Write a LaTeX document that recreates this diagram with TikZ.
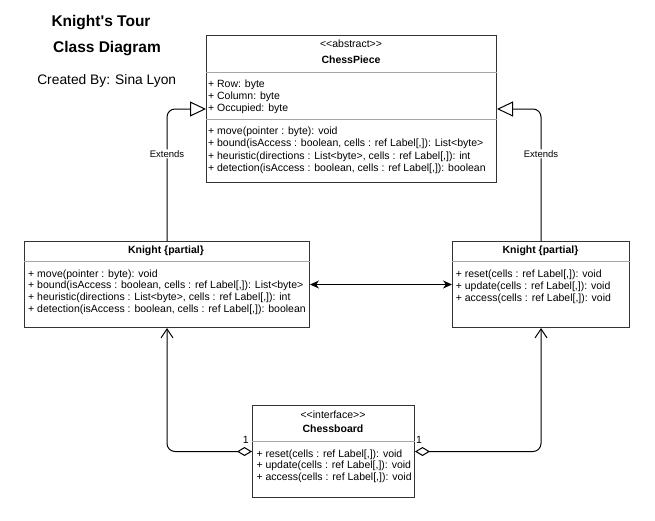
\documentclass[tikz,border=0pt]{standalone}
\usepackage{fontspec}
\setmainfont{Liberation Sans}[Ligatures=TeXOff]
\usetikzlibrary{arrows.meta}
\begin{document}
\begin{tikzpicture}[x=1pt, y=-1pt,
    classbox/.style={draw=black!80, line width=1pt, fill=white, anchor=north west, inner sep=0pt},
    divider/.style={draw=black!35, line width=0.8pt},
    stereotype/.style={inner sep=0pt, anchor=base, font=\fontsize{10.5}{12}\selectfont},
    classname/.style={inner sep=0pt, anchor=base, font=\fontsize{10.5}{12}\selectfont\bfseries},
    members/.style={inner sep=0pt, anchor=base west, align=left, font=\fontsize{10.5}{#1}\selectfont},
    members/.default=12,
    link/.style={draw=black, line width=1pt, rounded corners=8pt},
    extends/.style={link, -{Triangle[length=16pt, width=15pt, fill=white]}},
    aggregate/.style={link, {Diamond[length=15pt, width=9pt, fill=white]}-{Straight Barb[length=9pt, width=12pt]}},
    linktext/.style={fill=white, inner sep=1pt, font=\fontsize{9.5}{11}\selectfont},
    mult/.style={inner sep=0pt, font=\fontsize{10.5}{12}\selectfont}]
    \useasboundingbox (0,0) rectangle (655,520);

    % title
    \node[inner sep=0pt, anchor=base, font=\fontsize{15.5}{18}\selectfont\bfseries] (titleA) at (101,26.8) {Knight's Tour};
    \node[inner sep=0pt, anchor=base, font=\fontsize{15.5}{18}\selectfont\bfseries] (titleB) at (107,52.2) {Class Diagram};
    \node[inner sep=0pt, anchor=base, font=\fontsize{13.8}{16}\selectfont] (author) at (106.7,84.3) {Created By: Sina Lyon};

    % abstract class (multi-line members are placed by their last baseline)
    \node[classbox, minimum width=290pt, minimum height=147pt] (piece) at (206,35) {};
    \draw[divider] ([yshift=-37pt]piece.north west) -- ([yshift=-37pt]piece.north east);
    \draw[divider] ([yshift=-84pt]piece.north west) -- ([yshift=-84pt]piece.north east);
    \node[stereotype] (pieceSt) at (351,47.7) {<<abstract>>};
    \node[classname] (pieceName) at (351,63) {ChessPiece};
    \node[members] (pieceAttr) at (207.9,111) {+ Row: byte\\+ Column: byte\\+ Occupied: byte};
    \node[members=12.4] (pieceOps) at (207.9,171.6) {+ move(pointer : byte): void\\
        + bound(isAccess : boolean, cells : ref Label[,]): List<byte>\\
        + heuristic(directions : List<byte>, cells : ref Label[,]): int\\
        + detection(isAccess : boolean, cells : ref Label[,]): boolean};

    % partial classes
    \node[classbox, minimum width=285pt, minimum height=86pt] (knightL) at (24,241) {};
    \draw[divider] ([yshift=-20pt]knightL.north west) -- ([yshift=-20pt]knightL.north east);
    \node[classname] (knightLName) at (166,253.7) {Knight \{partial\}};
    \node[members=11.8] (knightLOps) at (28,312.4) {+ move(pointer : byte): void\\
        + bound(isAccess : boolean, cells : ref Label[,]): List<byte>\\
        + heuristic(directions : List<byte>, cells : ref Label[,]): int\\
        + detection(isAccess : boolean, cells : ref Label[,]): boolean};

    \node[classbox, minimum width=177pt, minimum height=86pt] (knightR) at (452,241) {};
    \draw[divider] ([yshift=-20pt]knightR.north west) -- ([yshift=-20pt]knightR.north east);
    \node[classname] (knightRName) at (540.5,253.7) {Knight \{partial\}};
    \node[members] (knightROps) at (455.6,301) {+ reset(cells : ref Label[,]): void\\
        + update(cells : ref Label[,]): void\\
        + access(cells : ref Label[,]): void};

    % interface
    \node[classbox, minimum width=162pt, minimum height=92pt] (board) at (252,405) {};
    \draw[divider] ([yshift=-36pt]board.north west) -- ([yshift=-36pt]board.north east);
    \node[stereotype] (boardSt) at (333,418) {<<interface>>};
    \node[classname] (boardName) at (333,432.7) {Chessboard};
    \node[members=11.7] (boardOps) at (256.3,480.4) {+ reset(cells : ref Label[,]): void\\
        + update(cells : ref Label[,]): void\\
        + access(cells : ref Label[,]): void};

    % connectors
    \draw[extends] (knightL.north) |- node[linktext, pos=0.33] (extL) {Extends} (piece.west);
    \draw[extends] (knightR.north) |- node[linktext, pos=0.33] (extR) {Extends} (piece.east);
    \draw[link, {Stealth[length=9pt, width=8pt]}-{Stealth[length=9pt, width=8pt]}] (knightL.east) -- (knightR.west);
    \draw[aggregate] (board.west) -| (knightL.south);
    \draw[aggregate] (board.east) -| (knightR.south);
    \node[mult, anchor=base east] (multL) at ([xshift=-3pt, yshift=8.3pt]board.west) {1};
    \node[mult, anchor=base west] (multR) at ([xshift=1pt, yshift=8.3pt]board.east) {1};
\end{tikzpicture}
\end{document}
